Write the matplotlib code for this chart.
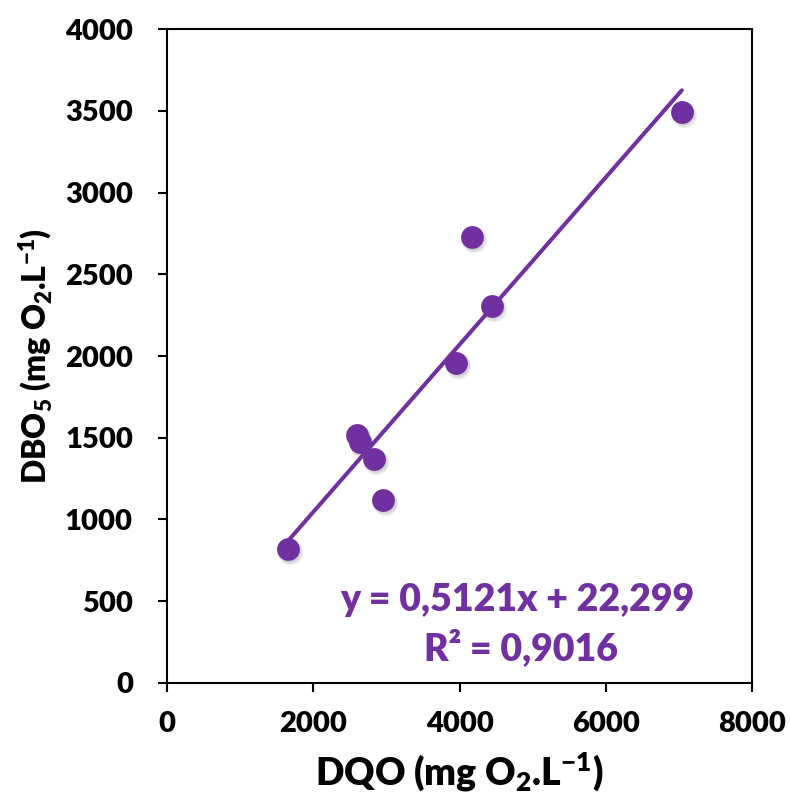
import numpy as np
import matplotlib
matplotlib.use("Agg")
import matplotlib.pyplot as plt
from matplotlib.transforms import offset_copy

# data
dqo = [1652, 2597, 2634, 2835, 2953, 3955, 4168, 4441, 7035]
dbo5 = [820, 1517, 1476, 1368, 1119, 1955, 2726, 2306, 3490]
slope, intercept, r2 = 0.5121, 22.299, 0.9016
x_ticks = [0, 2000, 4000, 6000, 8000]
y_ticks = [0, 500, 1000, 1500, 2000, 2500, 3000, 3500, 4000]

PURPLE = "#7030A0"
W = "heavy"
plt.rcParams["font.family"] = ["Lato", "DejaVu Sans"]
plt.rcParams["font.weight"] = W
plt.rcParams["mathtext.fontset"] = "custom"
plt.rcParams["mathtext.rm"] = "Lato:heavy"
plt.rcParams["mathtext.bf"] = "Lato:heavy"
plt.rcParams["mathtext.default"] = "rm"

fig = plt.figure(figsize=(7.9, 7.95), dpi=100)
ax = fig.add_axes([0.2114, 0.1409, 0.741, 0.8226])

# soft drop shadow under markers
for dx, dy, a, s in [(2, -3, 0.10, 330), (2, -3, 0.12, 290), (1.5, -2, 0.15, 260)]:
    tr = offset_copy(ax.transData, fig=fig, x=dx, y=dy, units="dots")
    ax.scatter(dqo, dbo5, s=s, color="gray", alpha=a, lw=0, transform=tr, zorder=2)
ax.scatter(dqo, dbo5, s=270, color=PURPLE, lw=0, zorder=3)

xl = np.array([min(dqo), max(dqo)])
ax.plot(xl, slope * xl + intercept, color=PURPLE, lw=2.9, solid_capstyle="round", zorder=4)

eq = f"y = {slope:.4f}x + {intercept:.3f}".replace(".", ",")
ax.text(4790, 505, eq, ha="center", va="center", color=PURPLE, fontsize=27, fontweight=W)
ax.text(4840, 218, f"R² = {r2:.4f}".replace(".", ","), ha="center", va="center",
        color=PURPLE, fontsize=27, fontweight=W)

ax.set_xlim(0, 8000)
ax.set_ylim(0, 4000)
ax.set_xticks(x_ticks)
ax.set_yticks(y_ticks)
ax.tick_params(direction="out", length=6.5, width=1.5, labelsize=21)
ax.tick_params(axis="y", pad=18)
ax.tick_params(axis="x", pad=14)
for lab in ax.get_xticklabels() + ax.get_yticklabels():
    lab.set_fontweight(W)
for sp in ax.spines.values():
    sp.set_linewidth(1.5)

ax.set_xlabel(r"DQO (mg O$_{2}$.L$^{-1}$)", fontsize=27, fontweight=W, labelpad=9)
ax.set_ylabel(r"DBO$_{5}$ (mg O$_{2}$.L$^{-1}$)", fontsize=23, fontweight=W, labelpad=8)

fig.savefig("out.png", dpi=100)
